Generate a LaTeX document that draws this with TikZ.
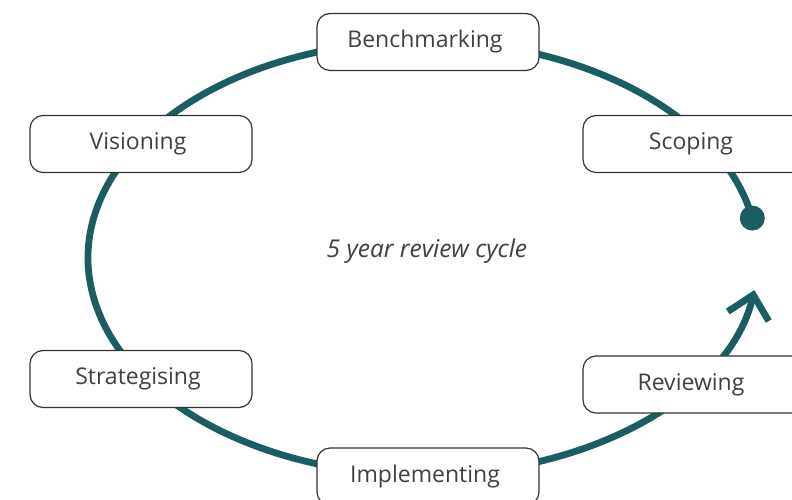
\documentclass[tikz,border=0pt]{standalone}
\usepackage{fontspec}
\setmainfont{Open Sans}
\usetikzlibrary{arrows.meta}
\definecolor{cycleteal}{HTML}{1A5E62}
\definecolor{boxline}{HTML}{333333}
\definecolor{labelgrey}{HTML}{404040}
\tikzset{
  stage/.style={draw=boxline, line width=1.2pt, fill=white, rounded corners=13pt,
    minimum width=222pt, minimum height=57pt, inner sep=0pt,
    text=labelgrey, font=\fontsize{23}{27}\selectfont,
    execute at begin node={\kern-6pt}},
  cycleline/.style={draw=cycleteal, line width=6.8pt},
}
\begin{document}
\begin{tikzpicture}[x=1pt, y=1pt]
  \useasboundingbox (0,0) rectangle (792,500);
  \clip (0,0) rectangle (792,500);
  % review cycle: an elliptical arc starting at a dot and ending in an open arrow
  \coordinate (start) at ({423+335*cos(10.6)}, {242+217*sin(10.6)});
  \draw[cycleline, -{Straight Barb[length=22pt, width=42pt]}]
    (start) arc[start angle=10.6, end angle=351.5, x radius=335, y radius=217];
  \fill[cycleteal] (start) circle (12.5);
  % stages
  \node[stage] (bench) at (428,458) {Benchmarking};
  \node[stage] (scope) at (694,356) {Scoping};
  \node[stage] (vision) at (141,356) {Visioning};
  \node[stage] (strat) at (141,121) {Strategising};
  \node[stage] (impl) at (428,23.5) {Implementing};
  \node[stage] (review) at (694,115.5) {Reviewing};
  \node[text=labelgrey, font=\fontsize{24.5}{29}\selectfont\itshape] (cycle) at (427,248.5) {5 year review cycle};
\end{tikzpicture}
\end{document}
